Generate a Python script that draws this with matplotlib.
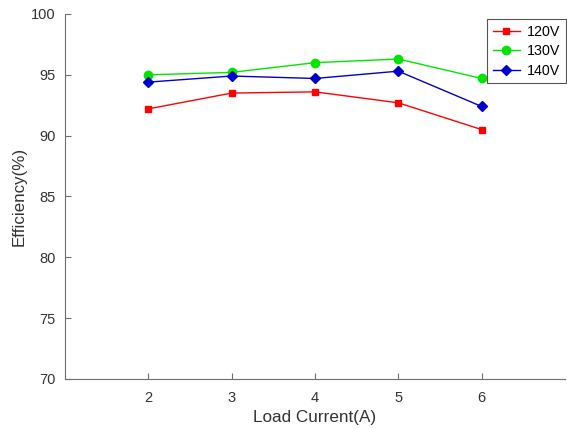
import matplotlib
matplotlib.use('Agg')
import matplotlib.pyplot as plt

plt.rcParams['font.family'] = ['Liberation Sans', 'DejaVu Sans']

# 負荷電流と効率のデータ
current = [2, 3, 4, 5, 6]
eff_120v = [92.2, 93.5, 93.6, 92.7, 90.5]
eff_130v = [95.0, 95.2, 96.0, 96.3, 94.7]
eff_140v = [94.4, 94.9, 94.7, 95.3, 92.4]
labels = ['120V', '130V', '140V']

fig = plt.figure(figsize=(5.67, 4.29), dpi=100)
ax = fig.add_axes([0.1146, 0.1166, 0.8818, 0.8508])

ax.plot(current, eff_120v, color='#ff0000', marker='s', markersize=5, lw=1, label=labels[0])
ax.plot(current, eff_130v, color='#00e600', marker='o', markersize=6, lw=1, label=labels[1])
ax.plot(current, eff_140v, color='#0000cc', marker='D', markersize=5, lw=1, label=labels[2])

ax.set_xlim(1, 7)
ax.set_ylim(70, 100)
ax.set_xticks([2, 3, 4, 5, 6])
ax.set_yticks([70, 75, 80, 85, 90, 95, 100])

for s in ['top', 'right']:
    ax.spines[s].set_visible(False)
for s in ['left', 'bottom']:
    ax.spines[s].set_color('#6e6e6e')
ax.tick_params(direction='in', length=4, color='#6e6e6e', labelcolor='#333333', labelsize=10.5)
ax.tick_params(axis='x', pad=9)
ax.tick_params(axis='y', pad=7)

ax.set_xlabel('Load Current(A)', fontsize=12.3, color='#333333', labelpad=3)
ax.set_ylabel('Efficiency(%)', fontsize=12.2, color='#333333', labelpad=3)

leg = ax.legend(loc='upper right', bbox_to_anchor=(566 / 567, 1 - 19 / 429),
                bbox_transform=fig.transFigure, borderaxespad=0, fontsize=10.3,
                fancybox=False, framealpha=1, edgecolor='#555555',
                handlelength=1.9, handletextpad=0.5, borderpad=0.4, labelspacing=0.38)
leg.get_frame().set_linewidth(0.8)

fig.savefig('out.png', dpi=100, facecolor='white')
